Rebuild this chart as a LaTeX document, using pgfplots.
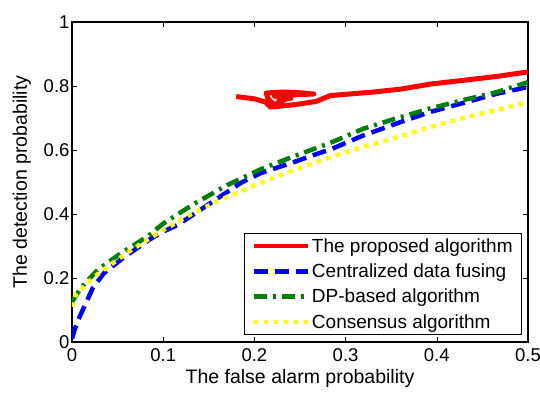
\documentclass[border=0pt]{standalone}
\usepackage{pgfplots}
\pgfplotsset{compat=1.18}
\usepackage{fontspec}
\setmainfont{Liberation Sans}
\definecolor{mgreen}{RGB}{0,128,0}
\definecolor{myellow}{RGB}{255,255,0}
\begin{document}
\begin{tikzpicture}
\begin{axis}[
  scale only axis, width=456pt, height=320pt,
  at={(0,0)}, anchor=south west,
  xmin=0, xmax=0.5, ymin=0, ymax=1,
  xtick={0,0.1,0.2,0.3,0.4,0.5},
  ytick={0,0.2,0.4,0.6,0.8,1},
  xticklabels={0,0.1,0.2,0.3,0.4,0.5},
  yticklabels={0,0.2,0.4,0.6,0.8,1},
  tick align=inside, major tick length=5pt,
  tick style={black, line width=0.6pt},
  axis line style={black, line width=1.2pt},
  ticklabel style={font=\fontsize{18.5}{21}\selectfont},
  xticklabel style={yshift=-3.5pt},
  yticklabel style={xshift=1pt},
  label style={font=\fontsize{19.5}{22}\selectfont},
  xlabel={The false alarm probability},
  ylabel={The detection probability},
  xlabel style={yshift=0pt},
  ylabel style={yshift=6pt},
  legend style={at={(0.987,0.022)}, anchor=south east, draw=black, line width=0.8pt,
     font=\fontsize{19}{22}\selectfont, row sep=6pt, inner xsep=7pt, inner ysep=3pt},
  legend cell align=left,
  legend image code/.code={\draw[#1, line width=4.5pt] (0pt,0pt) -- (54pt,0pt);},
  clip=true,
]
\addplot[red, line width=5pt, line join=round] coordinates {
(0.18,0.767)(0.2,0.760)(0.212,0.75)(0.218,0.733)(0.222,0.74)(0.215,0.76)(0.213,0.778)
(0.23,0.781)(0.245,0.78)(0.265,0.775)(0.24,0.772)(0.222,0.768)(0.24,0.762)(0.228,0.755)
(0.225,0.745)(0.232,0.742)(0.222,0.735)(0.245,0.742)(0.268,0.752)(0.283,0.77)(0.33,0.781)(0.36,0.790)(0.393,0.806)(0.43,0.818)(0.466,0.83)(0.5,0.844)
};
\addlegendentry{The proposed algorithm}
\addplot[blue, line width=4.5pt, dash pattern=on 14pt off 7pt] coordinates {
(0,0.01)(0.003,0.04)(0.007,0.07)(0.015,0.12)(0.023,0.17)(0.035,0.215)(0.057,0.265)(0.086,0.322)
(0.1,0.345)(0.116,0.366)(0.134,0.40)(0.155,0.44)(0.185,0.497)(0.207,0.528)(0.243,0.562)(0.287,0.606)
(0.319,0.645)(0.357,0.684)(0.393,0.719)(0.429,0.747)(0.466,0.776)(0.5,0.797)
};
\addlegendentry{Centralized data fusing}
\addplot[mgreen, line width=4.5pt, dash pattern=on 13pt off 6pt on 3pt off 6pt] coordinates {
(0,0.125)(0.01,0.17)(0.028,0.225)(0.054,0.278)(0.083,0.33)(0.1,0.37)(0.134,0.432)(0.17,0.49)
(0.207,0.54)(0.243,0.58)(0.283,0.622)(0.319,0.666)(0.357,0.70)(0.393,0.73)(0.429,0.756)(0.466,0.781)(0.5,0.812)
};
\addlegendentry{DP-based algorithm}
\addplot[myellow, line width=4.5pt, dash pattern=on 4.5pt off 5.5pt] coordinates {
(0,0.11)(0.004,0.147)(0.024,0.203)(0.061,0.28)(0.097,0.345)(0.134,0.405)(0.17,0.453)(0.207,0.497)
(0.243,0.537)(0.29,0.584)(0.319,0.609)(0.357,0.64)(0.393,0.672)(0.429,0.70)(0.466,0.725)(0.5,0.75)
};
\addlegendentry{Consensus algorithm}
\end{axis}
\pgfresetboundingbox
\path[use as bounding box] (-72pt,-51pt) rectangle (468pt,342pt);
\end{tikzpicture}
\end{document}
